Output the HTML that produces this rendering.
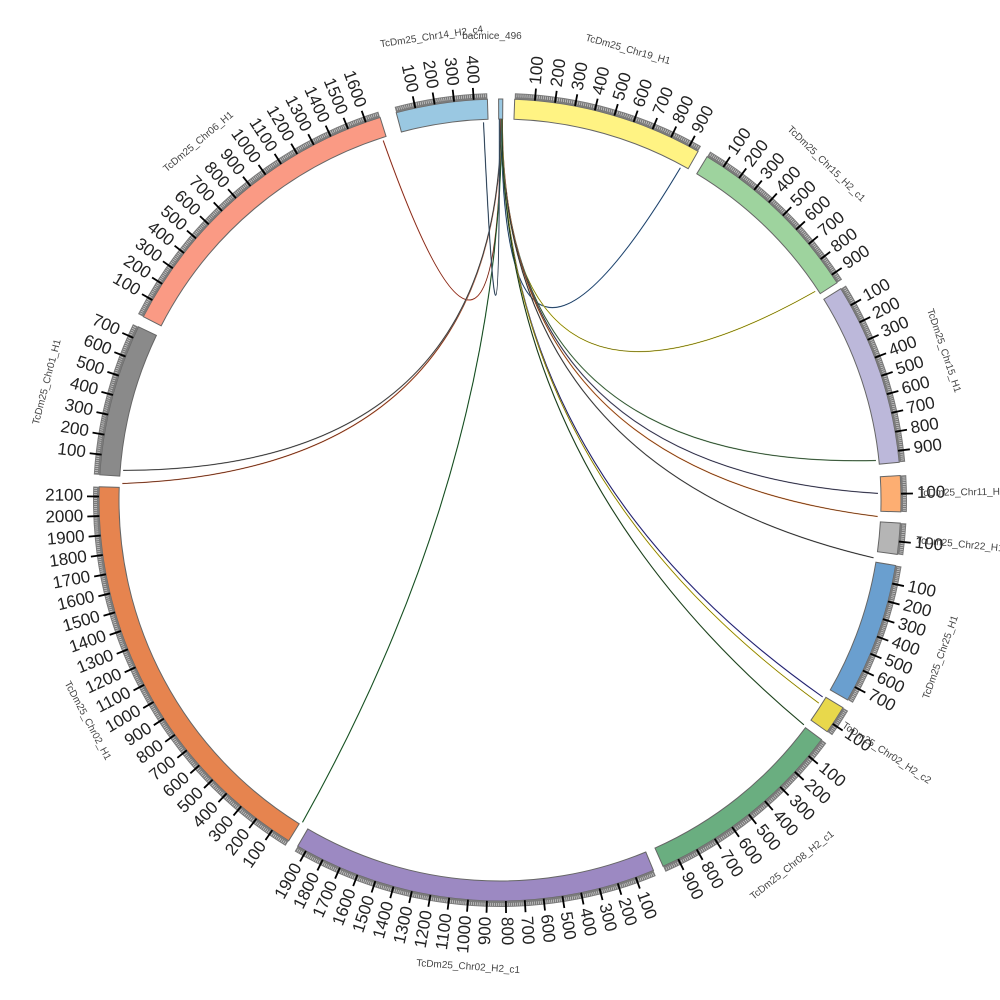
<!DOCTYPE html>
<html><head><meta charset="utf-8"><style>body{margin:0;background:#fff}svg{display:block}</style></head>
<body>
<svg id="s" width="1000" height="1000" viewBox="0 0 1000 1000" xmlns="http://www.w3.org/2000/svg" font-family="Liberation Sans, DejaVu Sans, sans-serif"></svg>
<script>
const S=document.getElementById('s');const NS='http://www.w3.org/2000/svg';
const cx=500,cy=500,R0=381,R1=401,RB=407,RT=413,RL=417;
function P(r,a){a=a*Math.PI/180;return [cx+r*Math.sin(a),cy-r*Math.cos(a)];}
function el(t,at,txt){const e=document.createElementNS(NS,t);for(const k in at)e.setAttribute(k,at[k]);if(txt!==undefined)e.textContent=txt;S.appendChild(e);return e;}
function ring(r0,r1,a0,a1){const p1=P(r1,a0),p2=P(r1,a1),p3=P(r0,a1),p4=P(r0,a0);const lg=(a1-a0)>180?1:0;
 return `M${p1} A${r1},${r1} 0 ${lg} 1 ${p2} L${p3} A${r0},${r0} 0 ${lg} 0 ${p4}Z`;}
const segs=[
 ['bacmice_496',-0.2,0.4,5,'#9ac8e2'],
 ['TcDm25_Chr19_H1',2.1,29.6,950,'#fff383'],
 ['TcDm25_Chr15_H2_c1',31.1,57.2,950,'#9ed39e'],
 ['TcDm25_Chr15_H1',58.2,84.6,960,'#bcb8da'],
 ['TcDm25_Chr11_H1',86.5,91.7,200,'#fdae72'],
 ['TcDm25_Chr22_H1',93.3,97.8,170,'#b5b5b5'],
 ['TcDm25_Chr25_H1',99.4,119.9,780,'#6a9fcf'],
 ['TcDm25_Chr02_H2_c2',121.2,125.3,150,'#e8d84b'],
 ['TcDm25_Chr08_H2_c1',126.7,156.0,980,'#6aae80'],
 ['TcDm25_Chr02_H2_c1',157.5,210.3,1950,'#9c89c2'],
 ['TcDm25_Chr02_H1',211.8,271.9,2150,'#e6844f'],
 ['TcDm25_Chr01_H1',273.6,295.6,760,'#8a8a8a'],
 ['TcDm25_Chr06_H1',297.2,342.6,1680,'#fa9a84'],
 ['TcDm25_Chr14_H2_c4',345.0,358.2,470,'#9ac8e2']];
segs.forEach(([n,a0,a1,L,c])=>{
 el('path',{d:ring(R0,R1,a0,a1),fill:c,stroke:'#666','stroke-width':1});
 if(n==='bacmice_496')return;
 el('path',{d:ring(R1,RB,a0,a1),fill:'#7a7a7a'});
 const sc=(a1-a0)/L;
 for(let v=10;v<L;v+=10){const a=a0+v*sc;const p=P(R1+2,a),q=P(R1+5,a);el('line',{x1:p[0],y1:p[1],x2:q[0],y2:q[1],stroke:'#ddd','stroke-width':0.6});}
 for(let v=100;v<L;v+=100){const a=a0+v*sc;const p=P(R1,a),q=P(RT,a);el('line',{x1:p[0],y1:p[1],x2:q[0],y2:q[1],stroke:'#000','stroke-width':1.8});
  const t=P(RL,a);let rot,anc;if(a<180){rot=a-90;anc='start';}else{rot=a+90;anc='end';}
  el('text',{x:t[0],y:t[1],'font-size':17,fill:'#222','text-anchor':anc,'dominant-baseline':'middle',transform:`rotate(${rot} ${t[0]} ${t[1]})`},String(v));}
 const am=(a0+a1)/2;const t=P(a1-a0<10?462:468,am);let rot=am;if(am>90&&am<270)rot=am+180;
 if(a1-a0<10){rot=am<180?am-90:am+90;}
 el('text',{x:t[0],y:t[1],'font-size':10,fill:'#444','text-anchor':'middle','dominant-baseline':'middle',transform:`rotate(${rot} ${t[0]} ${t[1]})`},n);
});
el('text',{x:492,y:39,'font-size':10,fill:'#444','text-anchor':'middle'},'bacmice_496');
const links=[[0.1,342.0,'#e8684f'],[0.2,272.5,'#d06840'],[0.15,274.5,'#777'],[0.3,211.5,'#3a8a4a'],[0.25,28.5,'#4a7ab0'],[0.3,56.5,'#e8e040'],[0.35,84.0,'#6a9a6a'],[0.35,89.0,'#666688'],[0.35,92.5,'#e08040'],[0.3,98.8,'#666'],[0.3,121.4,'#4444aa'],[0.3,122.5,'#e8d830'],[0.3,126.5,'#3a6a3a'],[-0.1,357.5,'#5a7a9a']];
links.forEach(([a,b,c])=>{const p=P(R0,a),q=P(R0-3,b);
 const d=`M${p} Q${cx},${cy-30} ${q}`;
 el('path',{d:d,fill:'none',stroke:c,'stroke-width':1.2});
 el('path',{d:d,fill:'none',stroke:'#000','stroke-width':0.4});});
</script>
</body></html>
